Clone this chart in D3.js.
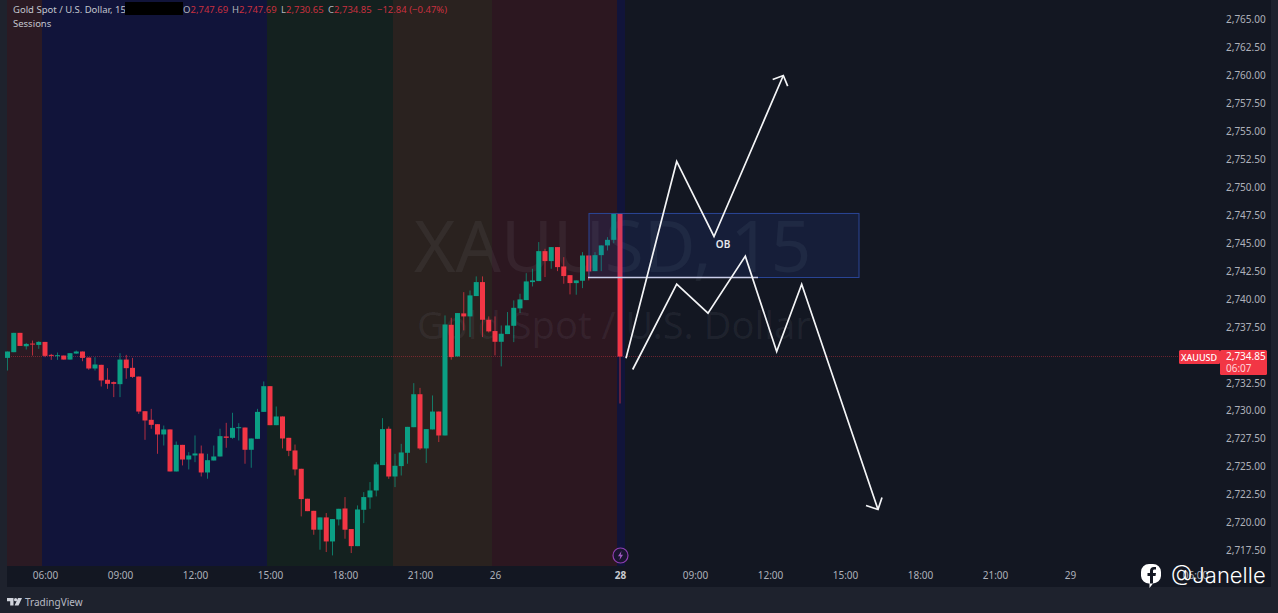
<!DOCTYPE html>
<html>
<head>
<meta charset="utf-8">
<script src="https://cdn.jsdelivr.net/npm/d3@7"></script>
<style>
  html, body { margin: 0; padding: 0; background: #1e222d; overflow: hidden; }
  svg { display: block; }
  text { font-family: "Noto Sans", sans-serif; }
  .axis path, .axis line { display: none; }
  .axis text { font-family: "Noto Sans", sans-serif; font-size: 10px; fill: #aeb1ba; }
</style>
</head>
<body>
<div id="chart"></div>
<script>
// candles, bar number 0 is the 06:00 bar, the first one is bar -6
const firstBar = -6;
const opens = [2734.73,2735.24,2736.97,2735.77,2736.01,2735.89,2736.16,2735.00,2734.88,2734.94,2734.58,2735.12,2735.30,2734.76,2733.78,2734.11,2732.77,2732.56,2732.38,2734.58,2733.84,2733.06,2729.96,2729.19,2728.80,2727.88,2728.33,2724.57,2726.95,2725.64,2726.00,2726.18,2724.48,2725.55,
  2725.91,2727.70,2727.58,2728.47,2728.50,2726.51,2727.49,2729.90,2732.20,2728.71,2729.49,2727.58,2726.45,2724.81,2722.13,2721.05,2719.36,2720.46,2718.31,2720.28,2721.26,2719.42,2717.89,2721.14,2722.25,2722.87,2725.14,2728.39,2724.12,2725.05,2726.24,2728.53,2731.48,2726.63,2728.33,
  2729.93,2727.79,2737.69,2734.86,2738.71,2738.44,2740.26,2741.51,2738.14,2737.13,2736.17,2736.86,2737.60,2739.16,2739.90,2741.51,2741.60,2744.28,2743.39,2744.64,2742.91,2742.13,2741.42,2741.63,2743.89,2742.49,2743.92,2744.79,2745.29,2747.69];
const highs = [2735.30,2736.97,2736.97,2736.07,2736.28,2736.22,2736.16,2735.09,2735.21,2734.94,2735.15,2735.39,2735.30,2734.76,2734.79,2734.11,2733.81,2732.62,2735.15,2735.00,2734.73,2733.06,2729.96,2730.17,2728.80,2728.68,2728.33,2727.25,2726.95,2726.30,2727.79,2726.89,2726.15,2726.89,
  2728.39,2728.92,2729.82,2728.89,2728.50,2727.52,2730.17,2732.62,2732.20,2730.38,2729.49,2727.58,2726.98,2724.81,2722.13,2721.05,2720.46,2720.85,2720.31,2721.23,2722.28,2719.42,2721.53,2722.72,2723.62,2725.40,2729.34,2728.59,2726.15,2727.04,2728.56,2732.47,2732.05,2728.36,2731.37,
  2729.93,2738.53,2738.32,2738.74,2740.61,2740.76,2742.02,2742.02,2738.44,2738.44,2737.63,2738.83,2739.87,2740.47,2742.31,2742.70,2745.09,2744.49,2744.64,2744.64,2743.74,2742.13,2741.66,2744.19,2743.89,2744.19,2744.79,2745.53,2747.69,2747.69];
const lows = [2733.60,2735.24,2735.80,2735.48,2734.94,2735.54,2734.79,2734.55,2734.55,2734.58,2734.58,2735.09,2734.43,2733.66,2733.60,2732.17,2731.96,2731.22,2731.22,2732.86,2732.94,2729.72,2727.40,2728.39,2726.15,2726.89,2724.57,2724.57,2725.11,2724.75,2725.40,2724.12,2723.92,2725.55,
  2725.91,2726.69,2727.49,2727.34,2725.26,2724.90,2727.49,2729.90,2728.71,2728.71,2726.63,2725.94,2724.21,2720.55,2721.02,2718.91,2717.57,2717.36,2717.06,2719.74,2718.55,2717.27,2717.89,2719.95,2721.23,2722.34,2725.14,2723.91,2723.17,2724.21,2725.26,2728.53,2726.51,2725.32,2728.33,
  2727.20,2727.79,2734.57,2734.86,2737.19,2736.59,2740.26,2736.59,2737.00,2734.95,2733.97,2736.86,2736.14,2738.74,2739.90,2741.12,2741.60,2741.96,2742.70,2742.49,2741.36,2740.41,2740.38,2740.97,2741.66,2742.49,2742.49,2744.34,2744.99,2730.65];
const closes = [2735.30,2736.97,2735.80,2735.98,2735.92,2736.16,2734.91,2734.91,2734.97,2734.58,2735.15,2735.30,2734.73,2733.78,2734.14,2732.71,2732.41,2732.41,2734.58,2733.81,2733.03,2729.93,2729.13,2728.74,2727.88,2728.33,2724.57,2726.95,2725.64,2726.00,2726.18,2724.48,2725.58,2725.91,
  2727.73,2727.58,2728.47,2728.53,2726.51,2727.52,2729.90,2732.20,2728.71,2729.49,2727.52,2726.42,2724.75,2722.10,2721.02,2719.36,2720.46,2718.31,2720.31,2721.23,2719.36,2717.89,2721.17,2722.28,2722.87,2725.20,2728.36,2724.12,2725.08,2726.27,2728.56,2731.48,2726.63,2728.36,2729.93,
  2727.79,2737.72,2734.80,2738.74,2738.44,2740.32,2741.51,2738.14,2737.10,2736.17,2736.89,2737.63,2739.21,2739.96,2741.57,2741.66,2744.28,2743.39,2744.64,2742.85,2742.05,2741.42,2741.66,2743.89,2742.46,2743.92,2744.79,2745.29,2747.69,2734.85];

// sessions: bar where each band starts and ends, with its colour
const sessionEdges = [-6.08, -0.48, 35.52, 55.68, 71.52, 91.52, 92.8];
const sessionColors = ["#2b1a23", "#11143a", "#14211f", "#2a221f", "#2c1720", "#11143a"];

const priceTicks = d3.range(2717.5, 2765.01, 2.5);
const timeBars = [0, 12, 24, 36, 48, 60, 72, 92, 104, 116, 128, 140, 152, 164, 184];
const timeLabels = ["06:00", "09:00", "12:00", "15:00", "18:00", "21:00", "26", "28", "09:00", "12:00", "15:00", "18:00", "21:00", "29", "06:00"];

const lastPrice = 2734.85;

// order block and the hand drawn lines
const obBars = [87.04, 130.24];
const obPrices = [2747.65, 2741.92];
const obLineBars = [86.88, 114.08];
const upBars = [92.96, 101.07, 107.04, 118.13];
const upPrices = [2734.70, 2752.30, 2745.59, 2759.99];
const upHeadBars = [116.43, 118.13, 118.83];
const upHeadPrices = [2759.63, 2759.99, 2759.04];
const downBars = [94.03, 101.07, 106.08, 112.05, 117.07, 121.07, 133.28];
const downPrices = [2733.69, 2741.32, 2738.73, 2743.83, 2735.30, 2741.32, 2721.17];
const downHeadBars = [131.36, 133.28, 133.92];
const downHeadPrices = [2721.53, 2721.17, 2722.24];

const legendParts = [
    { text: "O", x: 183, color: "#b2b5be" }, { text: "2,747.69", x: 190.5, color: "#c9303f" },
    { text: "H", x: 232, color: "#b2b5be" }, { text: "2,747.69", x: 239, color: "#c9303f" },
    { text: "L", x: 281, color: "#b2b5be" }, { text: "2,730.65", x: 286, color: "#c9303f" },
    { text: "C", x: 328, color: "#b2b5be" }, { text: "2,734.85", x: 334, color: "#c9303f" },
    { text: "\u221212.84 (\u22120.47%)", x: 377, color: "#c9303f" }
];

function buildChart() {
    const sWidth = 1278; const sHeight = 613;
    const plotLeft = 7, plotRight = 1271, plotBottom = 587, sessionBottom = 566;

    const svg = d3.select("#chart").append("svg")
        .attr("width", sWidth)
        .attr("height", sHeight);

    const xScale = d3.scaleLinear().domain([0, 12]).range([45, 120]);
    const yScale = d3.scaleLinear().domain([2765, 2717.5]).range([19.5, 550.5]);

    svg.append("rect")
        .attr("x", plotLeft).attr("y", 0)
        .attr("width", plotRight - plotLeft).attr("height", plotBottom)
        .attr("fill", "#131722");

    // session bands
    svg.selectAll(".session")
        .data(sessionColors)
        .enter().append("rect")
        .attr("class", "session")
        .attr("x", (d, i) => xScale(sessionEdges[i]))
        .attr("y", 0)
        .attr("width", (d, i) => xScale(sessionEdges[i + 1]) - xScale(sessionEdges[i]))
        .attr("height", sessionBottom)
        .attr("fill", d => d);

    // watermark
    svg.append("text")
        .attr("x", 414).attr("y", 272)
        .style("font-size", "71px")
        .attr("fill", "rgba(200,205,225,0.065)")
        .text("XAUUSD, 15");
    svg.append("text")
        .attr("x", 417).attr("y", 339)
        .style("font-size", "38px")
        .attr("fill", "rgba(200,205,225,0.065)")
        .text("Gold Spot / U.S. Dollar");

    // last price line
    svg.append("line")
        .attr("x1", plotLeft).attr("x2", 1180)
        .attr("y1", yScale(lastPrice)).attr("y2", yScale(lastPrice))
        .attr("stroke", "#f23645").attr("stroke-opacity", 0.4)
        .attr("stroke-dasharray", "1 1");

    const candles = opens.map((o, i) => ({
        bar: firstBar + i, open: o, high: highs[i], low: lows[i], close: closes[i]
    }));
    const candleColor = d => d.close >= d.open ? "#0b9f84" : "#f23645";

    const rows = svg.selectAll(".candle")
        .data(candles)
        .enter().append("g")
        .attr("class", "candle");

    rows.append("line")
        .attr("x1", d => xScale(d.bar)).attr("x2", d => xScale(d.bar))
        .attr("y1", d => yScale(d.high)).attr("y2", d => yScale(d.low))
        .attr("stroke", candleColor)
        .attr("stroke-opacity", 0.7);

    rows.append("rect")
        .attr("x", d => xScale(d.bar) - 2.5)
        .attr("width", 5)
        .attr("y", d => yScale(Math.max(d.open, d.close)))
        .attr("height", d => Math.max(1, Math.abs(yScale(d.open) - yScale(d.close))))
        .attr("fill", candleColor);

    // order block
    svg.append("rect")
        .attr("x", xScale(obBars[0]))
        .attr("y", yScale(obPrices[0]))
        .attr("width", xScale(obBars[1]) - xScale(obBars[0]))
        .attr("height", yScale(obPrices[1]) - yScale(obPrices[0]))
        .attr("fill", "rgba(41,80,200,0.14)")
        .attr("stroke", "#2a4596");
    svg.append("line")
        .attr("x1", xScale(obLineBars[0])).attr("x2", xScale(obLineBars[1]))
        .attr("y1", yScale(obPrices[1])).attr("y2", yScale(obPrices[1]))
        .attr("stroke", "#c9cdea").attr("stroke-width", 1.6);
    svg.append("text")
        .attr("x", 723).attr("y", 248)
        .attr("text-anchor", "middle")
        .style("font-size", "10px").style("font-weight", 600)
        .attr("fill", "#e6e8ee")
        .text("OB");

    // hand drawn paths
    const penLine = d3.line().x(d => xScale(d[0])).y(d => yScale(d[1]));
    [[upBars, upPrices], [upHeadBars, upHeadPrices], [downBars, downPrices], [downHeadBars, downHeadPrices]].forEach(p => {
        svg.append("path")
            .attr("d", penLine(d3.zip(p[0], p[1])))
            .attr("fill", "none")
            .attr("stroke", "#f4f5f7")
            .attr("stroke-width", 1.7);
    });

    // axes
    const yAxis = d3.axisRight(yScale)
        .tickValues(priceTicks)
        .tickSize(0)
        .tickFormat(d3.format(",.2f"));
    const yG = svg.append("g")
        .attr("class", "axis")
        .attr("transform", "translate(1226,0)")
        .call(yAxis);
    yG.selectAll("text").attr("x", 0);

    const xAxis = d3.axisBottom(xScale)
        .tickValues(timeBars)
        .tickSize(0)
        .tickFormat((d, i) => timeLabels[i]);
    const xG = svg.append("g")
        .attr("class", "axis")
        .attr("transform", "translate(0,569)")
        .call(xAxis);
    xG.selectAll("text")
        .style("font-weight", d => d === 92 ? 700 : 400)
        .style("fill", d => d === 92 ? "#c8cad0" : "#aeb1ba");

    // price tags
    svg.append("rect")
        .attr("x", 1179).attr("y", 350).attr("width", 41).attr("height", 14).attr("rx", 1.5)
        .attr("fill", "#f23645");
    svg.append("text")
        .attr("x", 1199).attr("y", 361).attr("text-anchor", "middle")
        .style("font-size", "9px").style("font-weight", 500)
        .attr("fill", "#ffffff").text("XAUUSD");
    svg.append("rect")
        .attr("x", 1220).attr("y", 350).attr("width", 47).attr("height", 25).attr("rx", 1.5)
        .attr("fill", "#f23645");
    svg.append("text")
        .attr("x", 1226).attr("y", 360)
        .style("font-size", "10px")
        .attr("fill", "#ffffff").text(d3.format(",.2f")(lastPrice));
    svg.append("text")
        .attr("x", 1226).attr("y", 372)
        .style("font-size", "10px")
        .attr("fill", "#ffd4d8").text("06:07");

    // legend at the top
    svg.append("text").attr("x", 13).attr("y", 13)
        .style("font-size", "9.5px").attr("fill", "#c3c6ce")
        .text("Gold Spot / U.S. Dollar, 15");
    svg.append("rect")
        .attr("x", 125).attr("y", 2).attr("width", 58).attr("height", 13)
        .attr("fill", "#000000");
    svg.selectAll(".ohlc")
        .data(legendParts)
        .enter().append("text")
        .attr("class", "ohlc")
        .attr("x", d => d.x).attr("y", 13)
        .style("font-size", "9.5px")
        .attr("fill", d => d.color)
        .text(d => d.text);
    svg.append("text").attr("x", 13).attr("y", 27)
        .style("font-size", "9.5px").attr("fill", "#c3c6ce")
        .text("Sessions");

    // lightning marker on the 28th
    const bolt = svg.append("g").attr("transform", "translate(620.5,555.5)");
    bolt.append("circle").attr("r", 7.5)
        .attr("fill", "#1a1530").attr("stroke", "#8e3fb0").attr("stroke-width", 1.2);
    bolt.append("path")
        .attr("d", "M1,-4.5 L-2.5,0.8 L-0.2,0.8 L-1,4.5 L2.5,-0.8 L0.2,-0.8 Z")
        .attr("fill", "#a25bc4");

    // footer
    const tv = svg.append("g").attr("transform", "translate(7,598)").attr("fill", "#d1d4dc");
    tv.append("path").attr("d", "M0,0 H6.5 V7.5 H3.2 V3.2 H0 Z");
    tv.append("circle").attr("cx", 8.6).attr("cy", 1.7).attr("r", 1.6);
    tv.append("path").attr("d", "M11,0 H15 L11.5,7.5 H7.6 Z");
    svg.append("text").attr("x", 25).attr("y", 606)
        .style("font-size", "10px").attr("fill", "#b8bbc4")
        .text("TradingView");

    // facebook mark and handle
    const fb = svg.append("g").attr("transform", "translate(1151,574)");
    fb.append("path")
        .attr("d", "M-2,-10 H2 A8,8 0 0 1 10,-2 V2 A8,8 0 0 1 2,9.5 L-1.5,14 V9.5 A8,8 0 0 1 -10,2 V-2 A8,8 0 0 1 -2,-10 Z")
        .attr("fill", "#ffffff");
    fb.append("path")
        .attr("d", "M5,-7 H3 C0.5,-7 -1,-5.5 -1,-3.2 V-1 H-3.5 V2 H-1 V9.5 H2 V2 H4.5 L5,-1 H2 V-3 C2,-4 2.5,-4.5 3.5,-4.5 H5 Z")
        .attr("fill", "#131722");
    svg.append("text").attr("x", 1171).attr("y", 583)
        .style("font-family", "Inter, sans-serif")
        .style("font-size", "22px").style("font-weight", 300)
        .attr("fill", "#ffffff")
        .text("@Janelle");
}

buildChart();
</script>
</body>
</html>
